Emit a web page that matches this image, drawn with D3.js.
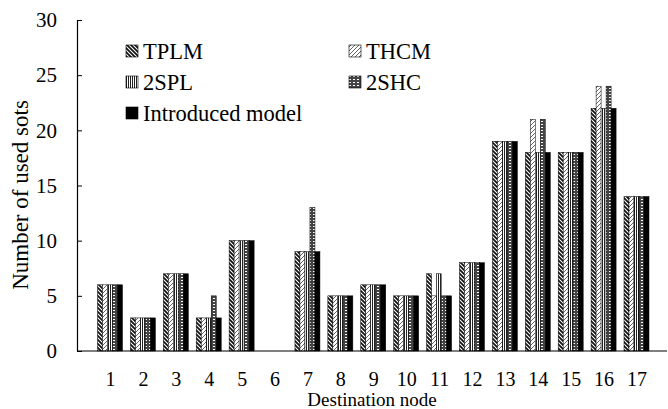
<!DOCTYPE html>
<html>
<head>
    <meta charset="utf-8">
    <title>Used slots</title>
    <script src="https://cdn.jsdelivr.net/npm/d3@7"></script>
    <style>
        body { margin: 0; background: #fff; }
        text { font-family: "Liberation Serif", "Times New Roman", serif; }
    </style>
</head>
<body>
    <svg width="668" height="409" id="mainsvg"></svg>
    <script>
        const nodes = d3.range(1, 18);
        const seriesNames = ['TPLM', 'THCM', '2SPL', '2SHC', 'Introduced model'];
        const tplm  = [6, 3, 7, 3, 10, 0, 9, 5, 6, 5, 7, 8, 19, 18, 18, 22, 14];
        const thcm  = [6, 3, 7, 3, 10, 0, 9, 5, 6, 5, 5, 8, 19, 21, 18, 24, 14];
        const twoSpl = [6, 3, 7, 3, 10, 0, 9, 5, 6, 5, 7, 8, 19, 18, 18, 22, 14];
        const twoShc = [6, 3, 7, 5, 10, 0, 13, 5, 6, 5, 5, 8, 19, 21, 18, 24, 14];
        const introduced = [6, 3, 7, 3, 10, 0, 9, 5, 6, 5, 5, 8, 19, 18, 18, 22, 14];
        const yTicks = [0, 5, 10, 15, 20, 25, 30];

        const allSeries = [tplm, thcm, twoSpl, twoShc, introduced];

        const svg = d3.select('#mainsvg');
        const plotLeft = 77, plotRight = 667, plotTop = 20, plotBottom = 351;

        // patterns for the hatched bars
        const defs = svg.append('defs');
        const p0 = defs.append('pattern').attr('id', 'pat0').attr('patternUnits', 'userSpaceOnUse')
            .attr('width', 4).attr('height', 4);
        p0.append('rect').attr('width', 4).attr('height', 4).attr('fill', '#111');
        p0.append('path').attr('d', 'M-1,-1 L5,5 M-1,3 L1,5 M3,-1 L5,1')
            .attr('stroke', '#fff').attr('stroke-width', 1.1);

        const p1 = defs.append('pattern').attr('id', 'pat1').attr('patternUnits', 'userSpaceOnUse')
            .attr('width', 4).attr('height', 4);
        p1.append('rect').attr('width', 4).attr('height', 4).attr('fill', '#fff');
        p1.append('path').attr('d', 'M-1,5 L5,-1 M-1,1 L1,-1 M3,5 L5,3')
            .attr('stroke', '#666').attr('stroke-width', 1);

        const p2 = defs.append('pattern').attr('id', 'pat2').attr('patternUnits', 'userSpaceOnUse')
            .attr('width', 2).attr('height', 2);
        p2.append('rect').attr('width', 2).attr('height', 2).attr('fill', '#fff');
        p2.append('rect').attr('width', 1).attr('height', 2).attr('fill', '#222');

        const p3 = defs.append('pattern').attr('id', 'pat3').attr('patternUnits', 'userSpaceOnUse')
            .attr('width', 4).attr('height', 3);
        p3.append('rect').attr('width', 4).attr('height', 3).attr('fill', '#444');
        p3.append('rect').attr('x', 1).attr('y', 1).attr('width', 2).attr('height', 1).attr('fill', '#fff');

        const fills = ['url(#pat0)', 'url(#pat1)', 'url(#pat2)', 'url(#pat3)', '#000'];

        const xScale = d3.scalePoint().domain(nodes).range([110, 636.5]);
        const subScale = d3.scaleBand().domain(d3.range(5)).range([-12.5, 12.5]);
        const yScale = d3.scaleLinear().domain([0, 30]).range([plotBottom, plotTop]);

        // bars
        allSeries.forEach((vals, s) => {
            const rows = vals.map((v, i) => ({ node: nodes[i], v: v })).filter(d => d.v > 0);
            svg.append('g').selectAll('rect').data(rows).join('rect')
                .attr('x', d => xScale(d.node) + subScale(s))
                .attr('y', d => yScale(d.v))
                .attr('width', subScale.bandwidth())
                .attr('height', d => yScale(0) - yScale(d.v))
                .attr('fill', fills[s])
                .attr('stroke', '#000')
                .attr('stroke-width', 0.5);
        });

        // y axis
        const yAxis = d3.axisLeft(yScale).tickValues(yTicks).tickSizeInner(-5).tickSizeOuter(0).tickPadding(20);
        const yg = svg.append('g').attr('transform', `translate(${plotLeft},0)`).call(yAxis);
        yg.select('.domain').attr('stroke', '#000').attr('stroke-width', 1.2);
        yg.selectAll('.tick line').attr('stroke', '#000');
        yg.selectAll('.tick text').attr('font-size', 21).attr('fill', '#000')
            .attr('font-family', '"Liberation Serif", serif');

        // x axis
        const xAxis = d3.axisBottom(xScale).tickSize(0).tickPadding(21);
        const xg = svg.append('g').attr('transform', `translate(0,${plotBottom})`).call(xAxis);
        xg.select('.domain').remove();
        xg.selectAll('.tick text').attr('font-size', 20).attr('fill', '#000')
            .attr('font-family', '"Liberation Serif", serif');
        svg.append('line').attr('x1', plotLeft).attr('x2', plotRight).attr('y1', plotBottom).attr('y2', plotBottom)
            .attr('stroke', '#000').attr('stroke-width', 1.2);

        // axis titles
        svg.append('text').attr('x', (plotLeft + plotRight) / 2).attr('y', 406)
            .attr('text-anchor', 'middle').attr('font-size', 19).text('Destination node');
        svg.append('text').attr('transform', `translate(28,195) rotate(-90)`)
            .attr('text-anchor', 'middle').attr('font-size', 23).text('Number of used sots');

        // legend
        const legendPos = [[126, 51], [349, 51], [126, 82], [349, 82], [126, 113]];
        const lg = svg.append('g');
        seriesNames.forEach((name, i) => {
            const [lx, ly] = legendPos[i];
            lg.append('rect').attr('x', lx).attr('y', ly - 6).attr('width', 12).attr('height', 12)
                .attr('fill', fills[i]).attr('stroke', '#000').attr('stroke-width', 0.6);
            lg.append('text').attr('x', lx + 17).attr('y', ly + 7.5)
                .attr('font-size', 22.5).text(name);
        });
    </script>
</body>
</html>
